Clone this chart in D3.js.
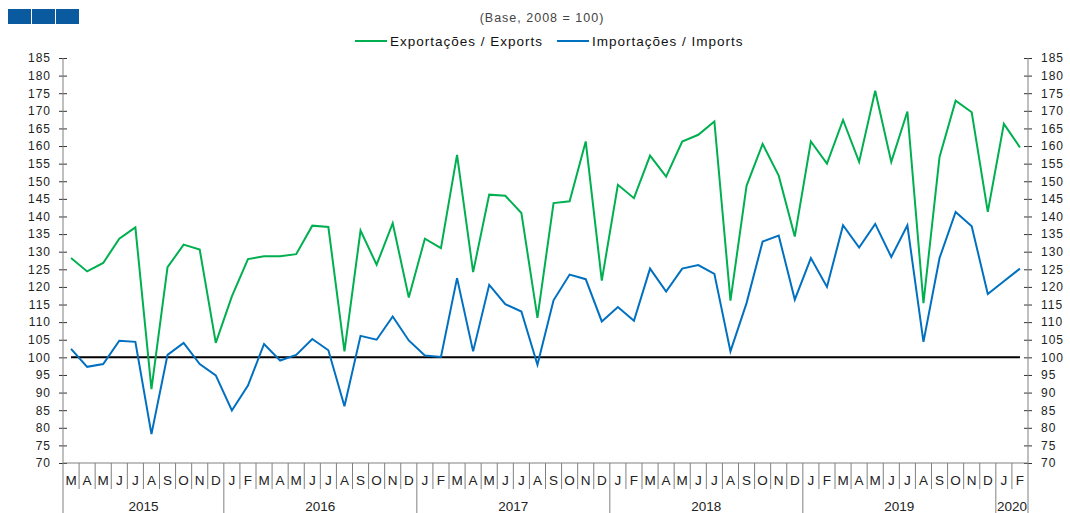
<!DOCTYPE html>
<html>
<head>
<meta charset="utf-8">
<script src="https://cdn.jsdelivr.net/npm/d3@7"></script>
<style>
  body { margin: 0; background: #fff; }
  svg { display: block; font-family: "Liberation Sans", Arial, sans-serif; }
</style>
</head>
<body>
<svg width="1070" height="513"></svg>
<script>
// Monthly index, Mar 2015 .. Feb 2020 (Base 2008 = 100)
const months = ['M','A','M','J','J','A','S','O','N','D',
  'J','F','M','A','M','J','J','A','S','O','N','D',
  'J','F','M','A','M','J','J','A','S','O','N','D',
  'J','F','M','A','M','J','J','A','S','O','N','D',
  'J','F','M','A','M','J','J','A','S','O','N','D',
  'J','F'];
const years = [
  { label: '2015', start: 0, end: 10 },
  { label: '2016', start: 10, end: 22 },
  { label: '2017', start: 22, end: 34 },
  { label: '2018', start: 34, end: 46 },
  { label: '2019', start: 46, end: 58 },
  { label: '2020', start: 58, end: 60 }
];
const exportsIdx = [128.2, 124.4, 126.8, 133.7, 136.9, 91.0, 125.6, 132.0, 130.6, 104.1,
  117.3, 127.9, 128.7, 128.7, 129.3, 137.4, 137.0, 101.7, 136.0, 126.3, 138.1, 117.0,
  133.7, 131.0, 157.5, 124.2, 146.2, 145.9, 141.0, 111.2, 143.8, 144.3, 161.3, 121.8,
  149.0, 145.2, 157.3, 151.3, 161.3, 163.2, 167.0, 116.1, 148.7, 160.6, 151.6, 134.3,
  161.3, 155.0, 167.4, 155.5, 175.7, 155.5, 169.8, 115.4, 156.9, 172.9, 169.6, 141.3,
  166.3, 159.6];
const importsIdx = [102.4, 97.3, 98.1, 104.7, 104.4, 78.2, 100.7, 104.1, 98.1, 94.9,
  84.9, 92.0, 103.8, 99.1, 100.7, 105.2, 102.0, 86.1, 106.1, 105.0, 111.6, 104.8,
  100.5, 100.1, 122.5, 101.7, 120.6, 115.1, 113.0, 97.9, 116.2, 123.5, 122.2, 110.2,
  114.3, 110.4, 125.2, 118.7, 125.2, 126.2, 123.7, 101.7, 115.4, 132.9, 134.6, 116.4,
  128.2, 120.0, 137.5, 131.2, 137.9, 128.5, 137.5, 104.4, 128.2, 141.3, 137.2, 118.0,
  121.6, 125.2];
const yTicks = d3.range(70, 186, 5);
const series = [
  { name: 'Exportações / Exports', color: '#00b050', values: exportsIdx },
  { name: 'Importações / Imports', color: '#0070c0', values: importsIdx }
];

const svg = d3.select('svg');
const plotLeft = 63, plotRight = 1028, plotTop = 58, plotBottom = 463;
const axisColor = '#808080';

const x = d3.scaleBand()
  .domain(d3.range(months.length))
  .range([plotLeft, plotRight])
  .padding(0);
const y = d3.scaleLinear().domain([70, 185]).range([plotBottom, plotTop]);
const cx = i => x(i) + x.bandwidth() / 2;

// header blocks (cut-off heading)
svg.append('g').selectAll('rect')
  .data([0, 1, 2])
  .join('rect')
    .attr('x', d => 8 + d * 24)
    .attr('y', 9)
    .attr('width', 23)
    .attr('height', 15)
    .attr('fill', '#0a5aa0');

svg.append('text')
  .attr('x', 542).attr('y', 22)
  .attr('text-anchor', 'middle')
  .attr('font-size', 12.5)
  .attr('letter-spacing', 1)
  .attr('fill', '#444')
  .text('(Base, 2008 = 100)');

// legend
const legend = svg.append('g').attr('class', 'legend');
const legendX = [355, 557];
series.forEach((s, i) => {
  legend.append('line')
    .attr('x1', legendX[i]).attr('x2', legendX[i] + 32)
    .attr('y1', 41).attr('y2', 41)
    .attr('stroke', s.color).attr('stroke-width', 2);
  legend.append('text')
    .attr('x', legendX[i] + 35).attr('y', 46)
    .attr('font-size', 13.5)
    .attr('letter-spacing', 1)
    .attr('fill', '#111')
    .text(s.name);
});

// y axes, left and right
const yAxisL = d3.axisLeft(y).tickValues(yTicks).tickSize(0).tickPadding(0);
const yAxisR = d3.axisRight(y).tickValues(yTicks).tickSize(0).tickPadding(0);

const gl = svg.append('g').attr('transform', `translate(${plotLeft},0)`).call(yAxisL);
const gr = svg.append('g').attr('transform', `translate(${plotRight},0)`).call(yAxisR);
[gl, gr].forEach((g, k) => {
  g.select('.domain').remove();
  g.selectAll('.tick text')
    .attr('x', k === 0 ? -12 : 13)
    .attr('font-size', 12)
    .attr('letter-spacing', 1)
    .attr('font-family', '"Liberation Sans", Arial, sans-serif')
    .attr('fill', '#222');
  g.selectAll('.tick').append('line')
    .attr('x1', -4).attr('x2', 4)
    .attr('stroke', '#333');
});
[plotLeft, plotRight].forEach(px => {
  svg.append('line')
    .attr('x1', px).attr('x2', px)
    .attr('y1', plotTop).attr('y2', 513)
    .attr('stroke', axisColor);
});

// x axis: baseline, month bands, year groups
svg.append('line')
  .attr('x1', plotLeft).attr('x2', plotRight)
  .attr('y1', plotBottom).attr('y2', plotBottom)
  .attr('stroke', axisColor);

svg.append('g').selectAll('line')
  .data(d3.range(1, months.length))
  .join('line')
    .attr('x1', d => x(d)).attr('x2', d => x(d))
    .attr('y1', plotBottom)
    .attr('y2', d => years.some(yr => yr.start === d) ? 513 : 489)
    .attr('stroke', axisColor);

svg.append('g').selectAll('text')
  .data(months)
  .join('text')
    .attr('x', (d, i) => cx(i))
    .attr('y', 485)
    .attr('text-anchor', 'middle')
    .attr('font-size', 13.5)
    .attr('fill', '#222')
    .text(d => d);

svg.append('g').selectAll('text')
  .data(years)
  .join('text')
    .attr('x', d => (x(d.start) + (d.end < months.length ? x(d.end) : plotRight)) / 2)
    .attr('y', 511)
    .attr('text-anchor', 'middle')
    .attr('font-size', 13.5)
    .attr('fill', '#222')
    .text(d => d.label);

// base line at 100
svg.append('line')
  .attr('x1', cx(0)).attr('x2', cx(months.length - 1))
  .attr('y1', y(100)).attr('y2', y(100))
  .attr('stroke', '#000').attr('stroke-width', 2);

// series
const line = d3.line().x((d, i) => cx(i)).y(d => y(d));
svg.append('g').selectAll('path')
  .data(series)
  .join('path')
    .attr('d', d => line(d.values))
    .attr('fill', 'none')
    .attr('stroke', d => d.color)
    .attr('stroke-width', 2)
    .attr('stroke-linejoin', 'miter');
</script>
</body>
</html>
